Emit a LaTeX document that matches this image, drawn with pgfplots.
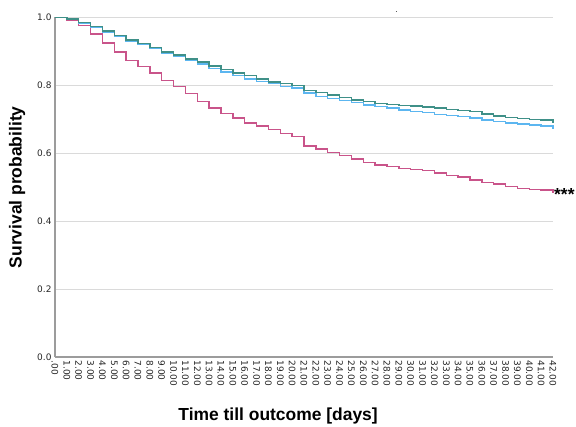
\documentclass[border=0pt]{standalone}
\usepackage{pgfplots}
\pgfplotsset{compat=1.18}
\usepackage{fontspec}
\setmainfont{Liberation Sans}
\newfontfamily\tickfont{DejaVu Sans}
\definecolor{cteal}{HTML}{3F9088}
\definecolor{cblue}{HTML}{5CB6F0}
\definecolor{cpink}{HTML}{C9548A}
\definecolor{cgrid}{HTML}{DADADA}
\definecolor{caxis}{HTML}{9C9C9C}

\pgfplotstableread{
day surv
0 1.000
1 0.992
2 0.976
3 0.952
4 0.925
5 0.898
6 0.874
7 0.855
8 0.837
9 0.815
10 0.797
11 0.776
12 0.753
13 0.733
14 0.717
15 0.704
16 0.689
17 0.681
18 0.670
19 0.658
20 0.649
21 0.622
22 0.612
23 0.602
24 0.593
25 0.583
26 0.573
27 0.566
28 0.561
29 0.555
30 0.553
31 0.549
32 0.542
33 0.534
34 0.530
35 0.522
36 0.514
37 0.510
38 0.502
39 0.497
40 0.494
41 0.492
42 0.483
}\pinkdata

\pgfplotstableread{
day surv
0 1.000
1 0.996
2 0.985
3 0.973
4 0.960
5 0.947
6 0.933
7 0.923
8 0.911
9 0.899
10 0.890
11 0.878
12 0.869
13 0.857
14 0.847
15 0.837
16 0.829
17 0.819
18 0.810
19 0.805
20 0.800
21 0.785
22 0.779
23 0.771
24 0.765
25 0.757
26 0.752
27 0.747
28 0.744
29 0.741
30 0.739
31 0.737
32 0.734
33 0.729
34 0.726
35 0.723
36 0.716
37 0.710
38 0.706
39 0.703
40 0.700
41 0.698
42 0.690
}\tealdata

\pgfplotstableread{
day surv
0 1.000
1 0.995
2 0.984
3 0.972
4 0.958
5 0.945
6 0.931
7 0.920
8 0.908
9 0.896
10 0.885
11 0.873
12 0.863
13 0.850
14 0.839
15 0.829
16 0.819
17 0.812
18 0.805
19 0.797
20 0.792
21 0.777
22 0.768
23 0.761
24 0.755
25 0.749
26 0.743
27 0.738
28 0.733
29 0.727
30 0.723
31 0.720
32 0.714
33 0.711
34 0.708
35 0.704
36 0.698
37 0.694
38 0.689
39 0.686
40 0.683
41 0.681
42 0.673
}\bluedata

\begin{document}
\begin{tikzpicture}[x=1bp,y=1bp]
\useasboundingbox (-55,-69) rectangle (521,357);
\begin{axis}[
  at={(0,0)}, anchor=south west,
  scale only axis, width=498bp, height=339.5bp,
  xmin=0, xmax=42, ymin=0, ymax=1,
  axis lines*=left,
  axis line style={caxis, line width=1.4pt},
  ymajorgrids, grid style={cgrid, line width=1.1pt},
  major tick length=0pt,
  ytick={0,0.2,0.4,0.6,0.8,1},
  yticklabels={0.0,0.2,0.4,0.6,0.8,1.0},
  xtick={0,...,42},
  xticklabels={.00,1.00,2.00,3.00,4.00,5.00,6.00,7.00,8.00,9.00,10.00,11.00,12.00,13.00,14.00,15.00,16.00,17.00,18.00,19.00,20.00,21.00,22.00,23.00,24.00,25.00,26.00,27.00,28.00,29.00,30.00,31.00,32.00,33.00,34.00,35.00,36.00,37.00,38.00,39.00,40.00,41.00,42.00},
  yticklabel style={font=\tickfont\fontsize{9}{10}\selectfont, text=black!85},
  xticklabel style={font=\tickfont\fontsize{9}{10}\selectfont, text=black!85, rotate=-90, anchor=west},
  xlabel={Time till outcome [days]},
  ylabel={Survival probability},
  xlabel style={font=\fontsize{17.5}{20}\selectfont\bfseries, at={(axis description cs:0.448,-0.174)}, anchor=center},
  ylabel style={font=\fontsize{17.5}{20}\selectfont\bfseries, at={(axis description cs:-0.076,0.5)}, anchor=center},
  clip=false,
]
\addplot[const plot, cpink, line width=1.5bp] table[x=day, y=surv] {\pinkdata};
\addplot[const plot, cblue, line width=1.5bp] table[x=day, y=surv] {\bluedata};
\addplot[const plot, cteal, line width=1.5bp] table[x=day, y=surv] {\tealdata};
\node[anchor=west, font=\fontsize{17.5}{20}\selectfont\bfseries, inner sep=1pt] at (axis cs:42,0.478) {***};
\node[font=\fontsize{8}{8}\selectfont, inner sep=0pt] at (axis cs:28.8,1.015) {.};
\end{axis}
\end{tikzpicture}
\end{document}
